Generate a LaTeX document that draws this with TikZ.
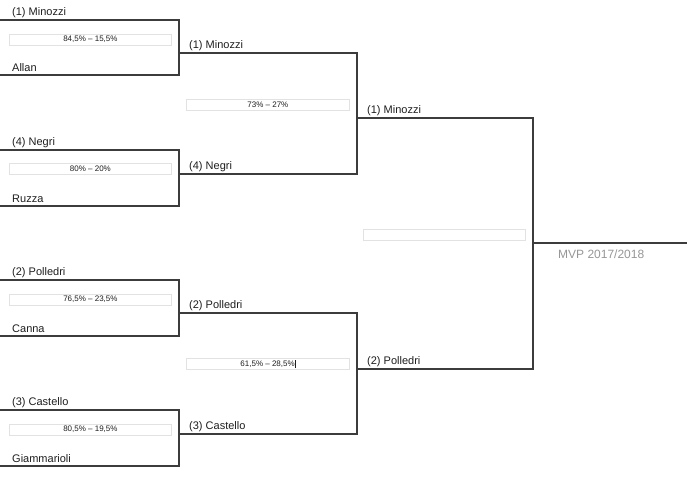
\documentclass[tikz,border=0pt]{standalone}
\usepackage{fontspec}
\setmainfont{Liberation Sans}
\definecolor{linec}{RGB}{60,60,60}
\definecolor{textc}{RGB}{30,30,30}
\definecolor{boxc}{RGB}{226,226,226}
\definecolor{mvpc}{RGB}{150,150,150}
\begin{document}
\begin{tikzpicture}[x=1pt,y=-1pt,
  bline/.style={draw=linec, line width=1.1pt, line cap=rect},
  pname/.style={anchor=base west, inner sep=0pt, font=\fontsize{11}{13}\selectfont, text=textc},
  scorebox/.style={draw=boxc, line width=0.8pt, fill=white, minimum height=11pt, inner sep=0pt, anchor=north west, font=\fontsize{8}{9}\selectfont, text=textc},
]
\useasboundingbox (0,0) rectangle (700,499);

% ---- round 1 ----
\foreach \k/\t/\b/\bx/\na/\nb/\sc in {
  1/20/75/33.5/(1) Minozzi/Allan/{84,5\% -- 15,5\%},
  2/150/206/163/(4) Negri/Ruzza/{80\% -- 20\%},
  3/280/336/293.5/(2) Polledri/Canna/{76,5\% -- 23,5\%},
  4/410/466/423.5/(3) Castello/Giammarioli/{80,5\% -- 19,5\%}}{
  \coordinate (a\k) at (0,\t);
  \coordinate (b\k) at (179,\t);
  \coordinate (c\k) at (179,\b);
  \coordinate (d\k) at (0,\b);
  \draw[bline] (a\k) -- (b\k) -- (c\k) -- (d\k);
  \node[pname] (top\k) at (12,\t-5) {\na};
  \node[pname] (bot\k) at (12,\b-4) {\nb};
  \node[scorebox, minimum width=162pt] (sc\k) at (9,\bx) {\sc};
}

% ---- round 2 ----
\coordinate (e1) at (179,53);   \coordinate (f1) at (357,53);
\coordinate (e2) at (179,174);  \coordinate (f2) at (357,174);
\coordinate (e3) at (179,313);  \coordinate (f3) at (357,313);
\coordinate (e4) at (179,434);  \coordinate (f4) at (357,434);
\draw[bline] (e1) -- (f1) -- (f2) -- (e2);
\draw[bline] (e3) -- (f3) -- (f4) -- (e4);
\node[pname] (w1) at (189,53-4.5) {(1) Minozzi};
\node[pname] (w2) at (189,174-4.5) {(4) Negri};
\node[pname] (w3) at (189,313-4.5) {(2) Polledri};
\node[pname] (w4) at (189,434-4.5) {(3) Castello};
\node[scorebox, minimum width=163pt] (sf1) at (186,98.5) {73\% -- 27\%};
\node[scorebox, minimum width=163pt] (sf2) at (186,358) {61,5\% -- 28,5\%\rule[-1.2pt]{0.6pt}{8.5pt}};

% ---- round 3 ----
\coordinate (g1) at (357,118);  \coordinate (h1) at (533,118);
\coordinate (g2) at (357,369);  \coordinate (h2) at (533,369);
\coordinate (fin1) at (533,243); \coordinate (fin2) at (686,243);
\draw[bline] (g1) -- (h1) -- (h2) -- (g2);
\draw[bline] (fin1) -- (fin2);
\node[pname] (s1) at (367,118-5) {(1) Minozzi};
\node[pname] (s2) at (367,369-4.5) {(2) Polledri};
\node[scorebox, minimum width=162pt] (sfin) at (363,228.5) {};
\node[anchor=base west, inner sep=0pt, font=\fontsize{12}{14}\selectfont, text=mvpc] (mvp) at (558,258) {MVP 2017/2018};
\end{tikzpicture}
\end{document}
